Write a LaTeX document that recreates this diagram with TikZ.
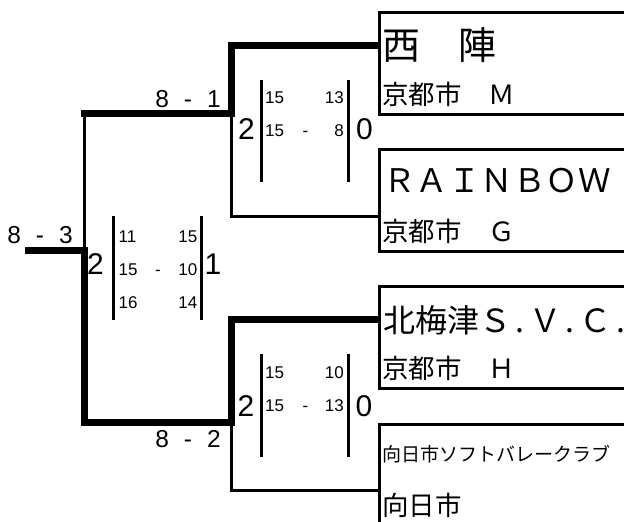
\documentclass[tikz,border=0pt]{standalone}
\usepackage{fontspec}
\setmainfont{Liberation Sans}
\newfontfamily\jpf{Noto Sans CJK JP}
\newcommand\hdot{\makebox[18pt][c]{.}}
\tikzset{
  thinln/.style={line width=3pt, line join=miter},
  thickln/.style={line width=7pt, line join=miter},
  barln/.style={line width=3pt},
  teambox/.style={draw, line width=3pt, anchor=north west, inner sep=0pt, minimum width=300pt},
  lbl/.style={inner sep=0pt, font=\fontsize{24.5pt}{26pt}\selectfont},
  bigsc/.style={inner sep=0pt, font=\fontsize{30pt}{32pt}\selectfont},
  smsc/.style={inner sep=0pt, font=\fontsize{17pt}{19pt}\selectfont},
  jtext/.style={inner sep=0pt, anchor=west},
  jhuge/.style={jtext, font=\jpf\fontsize{38pt}{40pt}\selectfont},
  jlarge/.style={jtext, font=\jpf\fontsize{32.5pt}{34pt}\selectfont},
  jsvc/.style={jtext, font=\jpf\fontsize{32pt}{34pt}\selectfont},
  jmid/.style={jtext, font=\jpf\fontsize{26.5pt}{28pt}\selectfont},
  jsmall/.style={jtext, font=\jpf\fontsize{19pt}{21pt}\selectfont},
}
\begin{document}
\begin{tikzpicture}[x=1pt, y=-1pt]
\useasboundingbox (0,0) rectangle (624,522);
\clip (0,0) rectangle (624,522);

% team boxes
\node[teambox, minimum height=102.3pt] (t1) at (378,10.7) {};
\node[teambox, minimum height=101.5pt] (t2) at (378,148) {};
\node[teambox, minimum height=102pt] (t3) at (378,285) {};
\node[teambox, minimum height=200pt] (t4) at (378,422.5) {};

% team texts
\node[jhuge] (n1) at (382,45) {西　陣};
\node[jmid] (c1) at (382,94) {京都市　Ｍ};
\node[jlarge] (n2) at (383,181) {ＲＡＩＮＢＯＷ};
\node[jmid] (c2) at (382,231.5) {京都市　Ｇ};
\node[jsvc] (n3) at (383,320) {北梅津Ｓ\hdot Ｖ\hdot Ｃ\hspace{5pt}.};
\node[jmid] (c3) at (382,368) {京都市　Ｈ};
\node[jsmall] (n4) at (382,454) {向日市ソフトバレークラブ};
\node[jmid] (c4) at (382,505) {向日市};

% bracket coordinates
\coordinate (t1a) at (378,45);
\coordinate (k1) at (231,45);
\coordinate (j1) at (231,113.5);
\coordinate (q1) at (81,113.5);
\coordinate (r1) at (84,113.5);
\coordinate (k2) at (231,216);
\coordinate (t2a) at (378,216);
\coordinate (f0) at (25,250.5);
\coordinate (fc) at (84,250.5);
\coordinate (q2) at (84,422);
\coordinate (j2) at (231,422);
\coordinate (k3) at (231,319);
\coordinate (t3a) at (378,319);
\coordinate (k4) at (231,490);
\coordinate (t4a) at (378,490);

% connectors
\draw[thinln] (j1) -- (k2) -- (t2a);
\draw[thinln] (r1) -- (fc);
\draw[thinln] (j2) -- (k4) -- (t4a);
\draw[thickln] (t1a) -- (k1) -- (j1) -- (q1);
\draw[thickln] (f0) -- (fc) -- (q2) -- (j2) -- (k3) -- (t3a);

% match labels
\node[lbl] (l1) at (188,99) {8\hspace{15pt}-\hspace{15pt}1};
\node[lbl] (l3) at (40,235) {8\hspace{15pt}-\hspace{15pt}3};
\node[lbl] (l2) at (188,439) {8\hspace{15pt}-\hspace{15pt}2};

% score block: top semifinal
\coordinate (b1a) at (261,80);  \coordinate (b1b) at (261,182);
\coordinate (b1c) at (348,80);  \coordinate (b1d) at (348,182);
\draw[barln] (b1a) -- (b1b);
\draw[barln] (b1c) -- (b1d);
\node[bigsc] (s1a) at (246.5,129.5) {2};
\node[bigsc] (s1b) at (364.5,129.5) {0};
\node[smsc, anchor=west] (s1p) at (265,98) {15};
\node[smsc, anchor=east] (s1q) at (344,98) {13};
\node[smsc, anchor=west] (s1r) at (265,131) {15};
\node[smsc] (s1s) at (305.5,131) {\vphantom{0}-};
\node[smsc, anchor=east] (s1t) at (344,131) {8};

% score block: final
\coordinate (b0a) at (113,216);  \coordinate (b0b) at (113,319.5);
\coordinate (b0c) at (201,216);  \coordinate (b0d) at (201,319.5);
\draw[barln] (b0a) -- (b0b);
\draw[barln] (b0c) -- (b0d);
\node[bigsc] (s0a) at (95.5,264) {2};
\node[bigsc] (s0b) at (213,264) {1};
\node[smsc, anchor=west] (s0p) at (118.5,237) {11};
\node[smsc, anchor=east] (s0q) at (197.5,237) {15};
\node[smsc, anchor=west] (s0r) at (118.5,270) {15};
\node[smsc] (s0s) at (158,270) {\vphantom{0}-};
\node[smsc, anchor=east] (s0t) at (197.5,270) {10};
\node[smsc, anchor=west] (s0u) at (118.5,303) {16};
\node[smsc, anchor=east] (s0v) at (197.5,303) {14};

% score block: bottom semifinal
\coordinate (b2a) at (261,353.5);  \coordinate (b2b) at (261,456.5);
\coordinate (b2c) at (348,353.5);  \coordinate (b2d) at (348,456.5);
\draw[barln] (b2a) -- (b2b);
\draw[barln] (b2c) -- (b2d);
\node[bigsc] (s2a) at (246,406) {2};
\node[bigsc] (s2b) at (364,406) {0};
\node[smsc, anchor=west] (s2p) at (265,372.5) {15};
\node[smsc, anchor=east] (s2q) at (344,372.5) {10};
\node[smsc, anchor=west] (s2r) at (265,406) {15};
\node[smsc] (s2s) at (305.5,406) {\vphantom{0}-};
\node[smsc, anchor=east] (s2t) at (344,406) {13};
\end{tikzpicture}
\end{document}
